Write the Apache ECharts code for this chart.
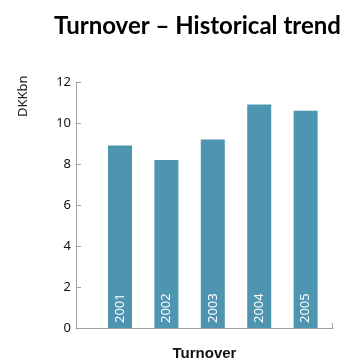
<!DOCTYPE html>
<html><head><meta charset="utf-8">
<script src="https://cdn.jsdelivr.net/npm/echarts@6/dist/echarts.min.js"></script>
<style>html,body{margin:0;padding:0;background:#fff}#c{width:345px;height:360px}</style>
</head><body><div id="c"></div>
<script>
const categories = ['2001','2002','2003','2004','2005'];
const positions = [1,2,3,4,5];
const turnover = [8.9, 8.2, 9.2, 10.9, 10.6];
const yTicks = [0,2,4,6,8,10,12];

const chart = echarts.init(document.getElementById('c'), null, {renderer:'canvas'});
chart.setOption({
  backgroundColor:'#ffffff',
  animation:false,
  title:{text:'Turnover – Historical trend', left:49, top:9,
    textStyle:{fontFamily:'Lato', fontWeight:'bold', fontSize:24, color:'#000'}},
  graphic:[{type:'text', x:17, y:117, rotation:Math.PI/2,
    style:{text:'DKKbn', fontFamily:'Noto Sans', fontSize:13, fill:'#222'}}],
  grid:{left:76, right:12, top:82, bottom:32, outerBoundsMode:'none', containLabel:false},
  xAxis:{type:'value', min:0.052, max:5.59,
    name:'Turnover', nameLocation:'middle', nameGap:18,
    nameTextStyle:{fontFamily:'Liberation Sans', fontWeight:'bold', fontSize:15, color:'#111'},
    axisLine:{show:true, lineStyle:{color:'#a0a0a0', width:1}},
    axisTick:{show:true, inside:true, length:5, customValues:[5.57], lineStyle:{color:'#a0a0a0'}},
    axisLabel:{show:false}, splitLine:{show:false}},
  yAxis:{type:'value', min:0, max:12, interval:2,
    axisLine:{show:true, lineStyle:{color:'#a0a0a0', width:1}},
    axisTick:{show:true, inside:true, length:5, lineStyle:{color:'#a0a0a0'}},
    axisLabel:{margin:5, fontFamily:'Noto Sans', fontSize:13, color:'#111',
      formatter:v=>yTicks.includes(v)?String(v):''},
    splitLine:{show:false}},
  series:[{type:'bar', barWidth:24,
    data:positions.map((p,i)=>[p,turnover[i]]),
    itemStyle:{color:'#4e95b2'},
    label:{show:true, position:'insideBottom', rotate:90, distance:5, align:'left', verticalAlign:'middle',
      formatter:p=>categories[p.dataIndex], color:'#fff', fontFamily:'Noto Sans', fontSize:13}}]
});
</script></body></html>
